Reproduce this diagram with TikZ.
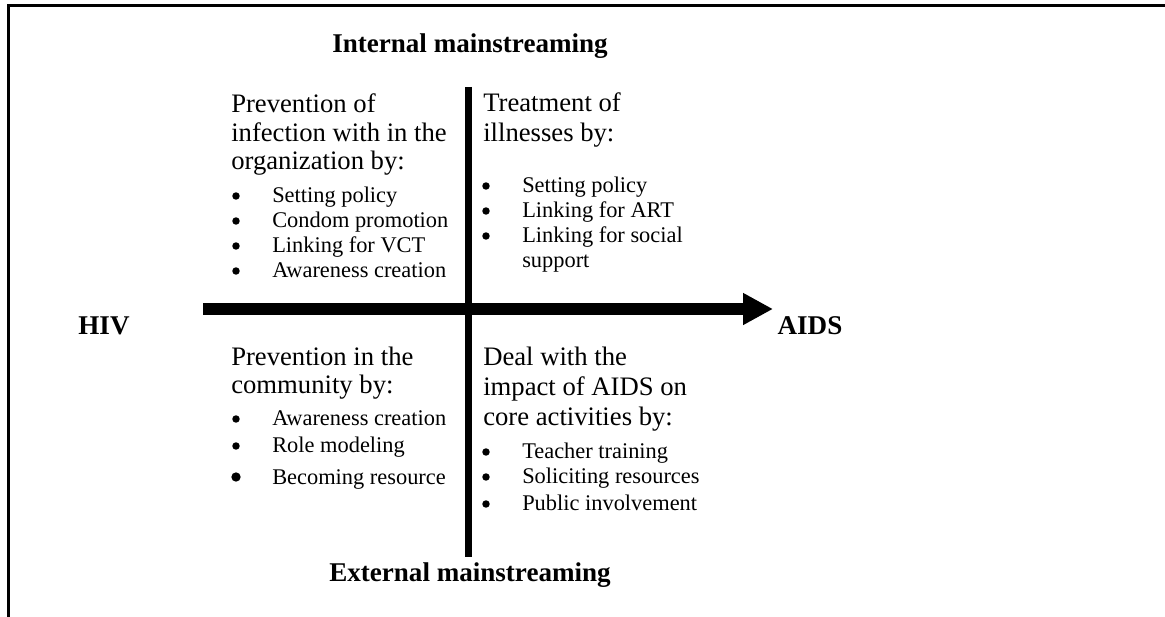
\documentclass[tikz,border=0pt]{standalone}
\usepackage{fontspec}
\setmainfont{Liberation Serif}
\usetikzlibrary{arrows.meta}

\begin{document}
\begin{tikzpicture}[x=0.75pt, y=-0.75pt,
    every node/.style={inner sep=0pt, anchor=base west},
    head/.style={font=\fontsize{20.3}{24}\selectfont\bfseries, anchor=base},
    body/.style={font=\fontsize{20}{24}\selectfont},
    item/.style={font=\fontsize{16.8}{20}\selectfont},
    dot/.style={circle, fill, anchor=center, minimum size=#1},
    dot/.default=5.6pt
    ]
  \useasboundingbox (0,0) rectangle (1165,617);
  % frame
  \draw[line width=2.25pt] (1165,6) -- (8,6) -- (8,617);

  % axes
  \coordinate (west) at (203,309);
  \coordinate (east) at (773,309);
  \coordinate (north) at (468,87);
  \coordinate (south) at (468,557);
  \draw[line width=5.25pt] (north) -- (south);
  \draw[line width=9pt, -{Triangle[length=22.5pt, width=22.5pt]}] (west) -- (east);

  % axis labels
  \node[head] (internal) at (470,53) {Internal mainstreaming};
  \node[head] (external) at (470,581) {External mainstreaming};
  \node[head] (hiv) at (104,334) {HIV};
  \node[head] (aids) at (810,334) {AIDS};

  % top left
  \foreach \t/\y [count=\i] in {Prevention of/113, infection with in the/142, organization by:/170}
    \node[body] (tl\i) at (231,\y) {\t};
  \foreach \t/\y [count=\i] in {Setting policy/202, Condom promotion/227, Linking for VCT/252, Awareness creation/277} {
    \node[dot] (tldot\i) at (236,\y-6) {};
    \node[item] (tlitem\i) at (272,\y) {\t};
  }

  % top right
  \foreach \t/\y [count=\i] in {Treatment of/112, illnesses by:/142}
    \node[body] (tr\i) at (483,\y) {\t};
  \foreach \t/\y [count=\i] in {Setting policy/192, Linking for ART/217, Linking for social/242} {
    \node[dot] (trdot\i) at (486,\y-6) {};
    \node[item] (tritem\i) at (522,\y) {\t};
  }
  \node[item] (tritem4) at (522,267) {support};

  % bottom left
  \foreach \t/\y [count=\i] in {Prevention in the/365, community by:/393}
    \node[body] (bl\i) at (231,\y) {\t};
  \foreach \t/\y [count=\i] in {Awareness creation/425, Role modeling/452} {
    \node[dot] (bldot\i) at (236,\y-6) {};
    \node[item] (blitem\i) at (272,\y) {\t};
  }
  \node[dot=7pt] (bldot3) at (236,477) {};
  \node[item] (blitem3) at (272,484) {Becoming resource};

  % bottom right
  \foreach \t/\y [count=\i] in {Deal with the/365, impact of AIDS on/395, core activities by:/425}
    \node[body] (br\i) at (483,\y) {\t};
  \foreach \t/\y [count=\i] in {Teacher training/458, Soliciting resources/483, Public involvement/510} {
    \node[dot] (brdot\i) at (486,\y-6) {};
    \node[item] (britem\i) at (522,\y) {\t};
  }
\end{tikzpicture}
\end{document}
